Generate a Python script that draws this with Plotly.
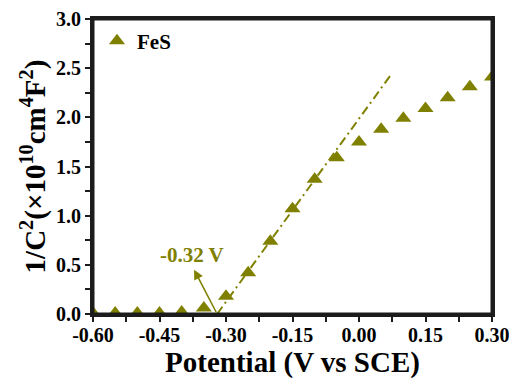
import plotly.graph_objects as go

# Mott-Schottky data for FeS
potential = [-0.60, -0.55, -0.50, -0.45, -0.40, -0.35, -0.30, -0.25, -0.20, -0.15,
             -0.10, -0.05, 0.00, 0.05, 0.10, 0.15, 0.20, 0.25, 0.30]
inv_c2 = [0.01, 0.01, 0.01, 0.01, 0.02, 0.06, 0.18, 0.42, 0.74, 1.07,
          1.37, 1.59, 1.75, 1.88, 1.99, 2.09, 2.20, 2.31, 2.41]

# Linear fit of the depletion region, extrapolated to the flat-band potential
fit_x = [-0.32, 0.07]
fit_y = [0.0, 2.42]
flat_band = -0.32

# labelled ticks plus unlabelled intermediate ticks
x_ticks = [-0.60, -0.525, -0.45, -0.375, -0.30, -0.225, -0.15, -0.075,
           0.00, 0.075, 0.15, 0.225, 0.30]
x_labels = ["-0.60", "", "-0.45", "", "-0.30", "", "-0.15", "",
            "0.00", "", "0.15", "", "0.30"]
y_ticks = [0.0, 0.25, 0.5, 0.75, 1.0, 1.25, 1.5, 1.75, 2.0, 2.25, 2.5, 2.75, 3.0]
y_labels = ["0.0", "", "0.5", "", "1.0", "", "1.5", "", "2.0", "", "2.5", "", "3.0"]

olive = "#808000"
frame = "#1c1c1c"
font = "Liberation Serif"


def bold(labels):
    return [f"<b>{t}</b>" if t else "" for t in labels]


fig = go.Figure()
fig.add_trace(go.Scatter(
    x=fit_x, y=fit_y, mode="lines", showlegend=False,
    line=dict(color=olive, width=2, dash="9px,4px,2px,4px"),
))
fig.add_trace(go.Scatter(
    x=potential, y=inv_c2, mode="markers", name="<b>FeS</b>",
    marker=dict(symbol="triangle-up", size=14, color=olive),
))

fig.add_annotation(
    x=-0.372, y=0.45, ax=flat_band, ay=0.0, axref="x", ayref="y",
    xref="x", yref="y", text="", showarrow=True,
    arrowhead=2, arrowsize=1.2, arrowwidth=1.6, arrowcolor=olive,
)
fig.add_annotation(
    x=-0.377, y=0.60, xref="x", yref="y", showarrow=False,
    text="<b>-0.32 V</b>", font=dict(family=font, size=21, color=olive),
)

# frame around the plotting area
fig.add_shape(type="rect", xref="paper", yref="paper", x0=0, x1=1, y0=0, y1=1,
              line=dict(color=frame, width=3), layer="above")

axis_common = dict(
    showline=True, linecolor=frame, linewidth=3, mirror=True,
    ticks="outside", ticklen=5, tickwidth=2, tickcolor=frame,
    showgrid=False, zeroline=False, automargin=False,
    ticklabeloverflow="allow",
    tickfont=dict(family=font, size=20, color="black"),
)

fig.update_xaxes(
    range=[-0.60, 0.30], tickvals=x_ticks, ticktext=bold(x_labels),
    ticklabelstandoff=-4,
    title=dict(text="<b>Potential (V vs SCE)</b>", font=dict(family=font, size=29, color="black"), standoff=0),
    **axis_common,
)
fig.update_yaxes(
    range=[0, 3.0], tickvals=y_ticks, ticktext=bold(y_labels),
    title=dict(text="<b>1/C<sup>2</sup>(×10<sup>10</sup>cm<sup>4</sup>F<sup>2</sup>)</b>",
               font=dict(family=font, size=29, color="black"), standoff=2),
    **axis_common,
)

fig.update_layout(
    template="none",
    width=509, height=380,
    margin=dict(l=93, r=17, t=19, b=66),
    plot_bgcolor="#ffffff", paper_bgcolor="#ffffff",
    showlegend=True,
    legend=dict(x=0.01, y=0.995, xanchor="left", yanchor="top",
                bgcolor="rgba(0,0,0,0)", itemwidth=30,
                font=dict(family=font, size=21, color="black")),
)

fig.write_html("out.html")
